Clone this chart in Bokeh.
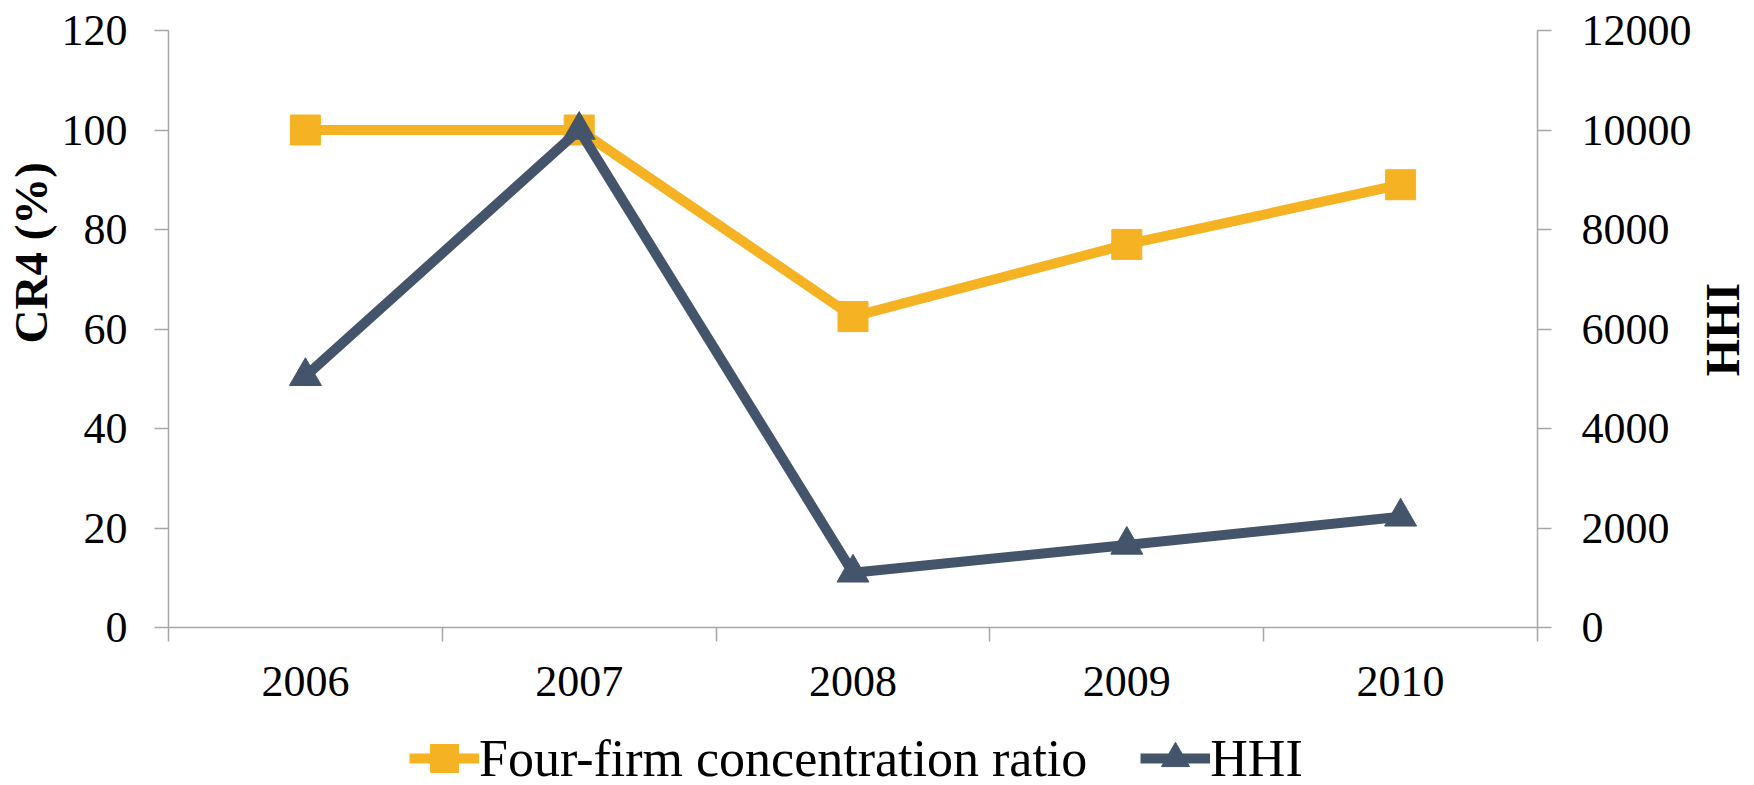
import math
from bokeh.plotting import figure
from bokeh.layouts import column
from bokeh.models import (Range1d, LinearAxis, FixedTicker, Legend, LegendItem,
                          Title, Label, ColumnDataSource)
from bokeh.embed import file_html
from bokeh.resources import INLINE

# ---- data ----
years = ["2006", "2007", "2008", "2009", "2010"]
cr4 = [100, 100, 62.5, 77, 89]
hhi = [5050, 10000, 1100, 1660, 2225]
left_ticks = [0, 20, 40, 60, 80, 100, 120]
right_ticks = [0, 2000, 4000, 6000, 8000, 10000, 12000]

ORANGE = "#F5B223"
SLATE = "#44546A"
AXIS_GRAY = "#A6A6A6"
FONT = "Liberation Serif"

xs = list(range(len(years)))
src = ColumnDataSource(dict(x=xs, cr4=cr4, hhi=hhi))

W = 1754
H_MAIN, H_LEG = 712, 73
FL, FR, FT, FB = 168, 1537, 30, 627

p = figure(width=W, height=H_MAIN, output_backend="svg", toolbar_location=None,
           x_range=Range1d(-0.5, len(years) - 0.5),
           y_range=Range1d(0, 120),
           min_border_left=FL, min_border_right=W - FR,
           min_border_top=FT, min_border_bottom=H_MAIN - FB)
p.extra_y_ranges = {"hhi": Range1d(0, 12000)}
p.outline_line_color = None
p.xgrid.visible = False
p.ygrid.visible = False
p.background_fill_color = "white"
p.border_fill_color = "white"

def style_axis(ax, standoff):
    ax.axis_line_color = AXIS_GRAY
    ax.axis_line_width = 1.5
    ax.major_tick_line_color = AXIS_GRAY
    ax.major_tick_line_width = 1.5
    ax.major_tick_out = 14
    ax.major_tick_in = 0
    ax.minor_tick_line_color = None
    ax.major_label_standoff = standoff
    ax.major_label_text_font = FONT
    ax.major_label_text_font_size = "44px"
    ax.major_label_text_color = "black"

# left axis
ya = p.yaxis[0]
ya.ticker = FixedTicker(ticks=left_ticks)
style_axis(ya, 27)

# right axis (ticks and labels)
ra = LinearAxis(y_range_name="hhi", ticker=FixedTicker(ticks=right_ticks))
style_axis(ra, 30)
p.add_layout(ra, "right")

# right title, reading bottom-to-top, in the right side panel
p.add_layout(Label(x=1719 - 1691, y=FB - 329, x_units="screen", y_units="screen",
                   text="HHI", angle=math.pi / 2, text_align="center",
                   text_baseline="middle", text_font=FONT, text_font_style="bold",
                   text_font_size="48px", text_color="black"), "right")

# left title (placed off-centre like the reference)
p.add_layout(Title(text="CR4 (%)", align="left", offset=284, standoff=3,
                   text_font=FONT, text_font_style="bold", text_font_size="47px",
                   text_color="black"), "left")

# bottom axis: labels at centers, ticks at category boundaries
xa = p.xaxis[0]
xa.ticker = FixedTicker(ticks=xs, minor_ticks=[i - 0.5 for i in range(len(years) + 1)])
xa.major_label_overrides = {i: y for i, y in zip(xs, years)}
style_axis(xa, 25)
xa.major_tick_line_color = None
xa.major_tick_out = 0
xa.minor_tick_line_color = AXIS_GRAY
xa.minor_tick_line_width = 1.5
xa.minor_tick_out = 14
xa.minor_tick_in = 0

# series
p.line("x", "cr4", source=src, line_color=ORANGE, line_width=10, line_join="round")
p.scatter("x", "cr4", source=src, marker="square", size=30,
          fill_color=ORANGE, line_color=ORANGE)
p.line("x", "hhi", source=src, y_range_name="hhi", line_color=SLATE,
       line_width=10, line_join="round")
p.scatter("x", "hhi", source=src, y_range_name="hhi", marker="triangle", size=32,
          fill_color=SLATE, line_color=SLATE)

# ---- legend strip below the chart (proxy renderers fall outside its ranges) ----
leg = figure(width=W, height=H_LEG, output_backend="svg", toolbar_location=None,
             x_range=Range1d(-0.5, len(years) - 0.5), y_range=Range1d(-2, -1),
             x_axis_location=None, y_axis_location=None,
             min_border=0, min_border_left=0, min_border_right=0,
             min_border_top=0, min_border_bottom=0)
leg.outline_line_color = None
leg.xgrid.visible = False
leg.ygrid.visible = False
leg.background_fill_color = "white"
leg.border_fill_color = "white"
g1 = leg.line("x", "cr4", source=src, line_color=ORANGE, line_width=10)
m1 = leg.scatter("x", "cr4", source=src, marker="square", fill_color=ORANGE, line_color=ORANGE)
g2 = leg.line("x", "hhi", source=src, line_color=SLATE, line_width=10)
m2 = leg.scatter("x", "hhi", source=src, marker="triangle", fill_color=SLATE, line_color=SLATE)

row_center = 758 - H_MAIN  # from top of strip
GH = 70
legend = Legend(items=[LegendItem(label="Four-firm concentration ratio", renderers=[g1, m1]),
                       LegendItem(label="HHI", renderers=[g2, m2])],
                orientation="horizontal",
                location=(409 - FL, H_LEG - row_center - GH / 2),
                glyph_width=70, glyph_height=GH, label_standoff=0, spacing=53,
                padding=0, margin=0, border_line_color=None,
                background_fill_alpha=0, label_text_font=FONT,
                label_text_font_size="52px", label_text_color="black")
leg.add_layout(legend, "center")

layout = column(p, leg, spacing=0)
open("out.html", "w").write(file_html(layout, INLINE))
